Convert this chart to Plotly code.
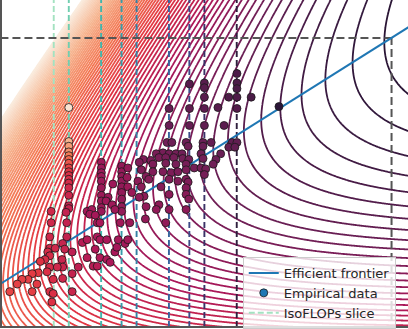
import numpy as np
import plotly.graph_objects as go

# ---------------- data ----------------
# Parametric loss fit  L(N, D) = E + A / N^alpha + B / D^beta ,  D = C / (6 N)
E, A, B, ALPHA, BETA = 1.69, 406.4, 410.7, 0.34, 0.28

iso_budgets = [6e18, 1e19, 3e19, 6e19, 1e20, 3e20, 6e20, 1e21, 3e21]
gopher_flops = 5.76e23

# Empirical runs: (log10 FLOPs, log10 parameters, final loss)
runs_slice_1e19 = [
    (19.00, 9.77, 4.90), (19.00, 9.41, 4.30), (19.00, 9.36, 4.05), (19.00, 9.30, 3.90),
    (19.00, 9.26, 3.72), (19.00, 9.22, 3.57), (19.00, 9.18, 3.42), (19.00, 9.13, 3.27),
    (19.00, 9.09, 3.17), (19.00, 9.05, 3.10), (19.00, 9.01, 3.07), (19.00, 8.97, 3.04),
    (19.00, 8.92, 3.00), (19.00, 8.84, 2.95), (19.00, 8.73, 2.92), (19.00, 8.70, 2.90),
    (18.96, 8.66, 2.90), (18.97, 8.55, 2.90), (18.97, 8.40, 2.90), (18.91, 8.33, 2.92),
    (18.94, 8.27, 2.92), (18.90, 8.16, 2.95), (18.91, 8.08, 2.95), (18.91, 7.96, 3.00),
]
runs_small_a = [
    (18.74, 8.67, 3.00), (18.74, 8.55, 3.00), (18.72, 8.40, 3.00), (18.72, 8.28, 3.02),
    (18.80, 8.28, 3.00), (18.69, 8.24, 3.05), (18.72, 8.20, 3.05), (18.65, 8.16, 3.08),
    (18.72, 8.08, 3.05), (18.83, 8.08, 3.00), (18.77, 7.95, 3.08), (18.68, 8.03, 3.10),
    (18.72, 7.82, 3.10), (18.77, 7.80, 3.10), (18.75, 7.71, 3.12),
]
runs_small_b = [
    (18.58, 8.14, 3.15), (18.55, 8.02, 3.20), (18.46, 8.01, 3.22), (18.40, 7.95, 3.25),
    (18.31, 7.95, 3.25), (18.24, 7.90, 3.28), (18.53, 7.90, 3.22), (18.46, 7.82, 3.25),
    (18.13, 7.82, 3.30),
]
runs_mid_low = [
    (19.05, 8.24, 2.85), (19.05, 8.01, 2.90), (19.05, 7.82, 2.95), (19.14, 8.08, 2.85),
    (19.20, 8.34, 2.80), (19.27, 8.37, 2.78), (19.27, 8.18, 2.80), (19.36, 8.09, 2.80),
    (19.42, 8.09, 2.80), (19.39, 8.27, 2.75), (19.42, 8.40, 2.72), (19.46, 8.37, 2.72),
    (19.46, 8.18, 2.75), (19.56, 8.37, 2.70), (19.56, 8.16, 2.72), (19.61, 8.13, 2.72),
    (19.68, 8.24, 2.70), (19.71, 8.29, 2.68), (19.73, 8.37, 2.68), (19.83, 8.33, 2.65),
    (19.87, 8.37, 2.65), (19.42, 8.55, 2.70), (19.46, 8.55, 2.70), (19.76, 8.55, 2.65),
    (19.90, 8.55, 2.62),
]
runs_mid = [
    (19.48, 9.19, 2.60), (19.48, 9.13, 2.60), (19.48, 9.08, 2.60), (19.48, 9.04, 2.60),
    (19.48, 8.99, 2.60), (19.48, 8.92, 2.60), (19.48, 8.84, 2.60), (19.48, 8.78, 2.60),
    (19.48, 8.71, 2.60), (19.48, 8.67, 2.60),
    (19.78, 9.15, 2.55), (19.78, 9.09, 2.55), (19.78, 9.04, 2.55), (19.78, 8.99, 2.55),
    (19.78, 8.93, 2.55), (19.78, 8.87, 2.55), (19.78, 8.80, 2.55), (19.78, 8.72, 2.55),
    (19.78, 8.67, 2.55),
    (19.86, 9.03, 2.58), (19.87, 8.93, 2.60), (19.93, 8.87, 2.60), (19.65, 8.96, 2.62),
    (19.58, 8.82, 2.62), (19.55, 8.78, 2.63), (19.64, 8.74, 2.63), (19.68, 8.69, 2.63),
    (19.27, 8.67, 2.68), (19.34, 8.69, 2.67), (19.31, 8.64, 2.68), (19.39, 8.63, 2.67),
    (19.87, 9.13, 2.55),
]
runs_large = [
    (20.48, 9.76, 2.25), (20.78, 9.76, 2.25), (21.00, 9.76, 2.22), (21.48, 9.76, 2.18),
    (21.20, 9.77, 2.20), (20.48, 9.58, 2.30), (20.78, 9.58, 2.28), (21.00, 9.58, 2.25),
    (21.29, 9.58, 2.22), (20.45, 9.40, 2.35), (20.52, 9.40, 2.33), (20.73, 9.40, 2.32),
    (20.98, 9.40, 2.30), (21.10, 9.40, 2.28), (21.41, 9.40, 2.25), (21.48, 9.40, 2.25),
    (20.76, 9.36, 2.33), (20.98, 9.36, 2.30), (21.36, 9.35, 2.27), (21.45, 9.35, 2.26),
    (20.39, 9.29, 2.38), (20.29, 9.28, 2.40), (20.48, 9.28, 2.37), (20.58, 9.28, 2.36),
    (20.67, 9.28, 2.35), (20.95, 9.28, 2.33), (21.24, 9.28, 2.30), (20.33, 9.24, 2.40),
    (20.43, 9.24, 2.38), (20.55, 9.24, 2.37), (20.68, 9.23, 2.36), (20.77, 9.22, 2.36),
    (20.98, 9.23, 2.34), (21.17, 9.22, 2.32), (20.10, 9.22, 2.42), (20.21, 9.21, 2.41),
    (20.04, 9.19, 2.43), (20.24, 9.17, 2.42), (20.43, 9.18, 2.40), (20.58, 9.17, 2.39),
    (20.73, 9.17, 2.38), (20.85, 9.13, 2.37), (20.95, 9.13, 2.36), (21.02, 9.12, 2.36),
    (21.13, 9.17, 2.34), (20.07, 9.11, 2.45), (20.24, 9.09, 2.44), (20.39, 9.09, 2.43),
    (20.51, 9.08, 2.42), (20.61, 9.09, 2.41), (20.73, 9.11, 2.40), (21.00, 9.06, 2.38),
    (20.14, 9.04, 2.46), (20.18, 9.01, 2.47), (20.48, 9.01, 2.45), (20.61, 8.99, 2.44),
    (20.73, 9.01, 2.43), (20.76, 8.98, 2.43), (20.02, 8.99, 2.50), (20.07, 8.93, 2.50),
    (20.11, 8.83, 2.52), (20.36, 8.93, 2.48), (20.73, 8.92, 2.46), (20.48, 8.85, 2.50),
    (20.73, 8.85, 2.48), (20.77, 8.80, 2.48), (20.33, 8.74, 2.53), (20.48, 8.69, 2.53),
    (20.73, 8.69, 2.52), (20.29, 8.69, 2.55), (20.04, 8.82, 2.53), (20.14, 8.72, 2.55),
    (20.43, 8.55, 2.55), (20.13, 8.59, 2.55),
]
runs_top = [
    (20.78, 10.02, 2.20), (21.00, 10.03, 2.20), (21.00, 9.98, 2.20), (21.00, 9.88, 2.20),
    (21.48, 10.13, 2.13), (21.48, 10.03, 2.13), (21.48, 9.97, 2.13), (21.36, 9.88, 2.15),
    (21.48, 9.88, 2.15), (21.69, 9.88, 2.13), (22.10, 9.78, 1.95),
]

# ---------------- styling helpers ----------------
ROCKET = [(0.0, '#03051a'), (0.143, '#35193e'), (0.286, '#701f57'), (0.429, '#ad1759'),
          (0.571, '#e13342'), (0.714, '#f37651'), (0.857, '#f6b48f'), (1.0, '#faebdd')]
MAKO = [(0.0, '#0b0405'), (0.143, '#2e1e3b'), (0.286, '#413d7b'), (0.429, '#37659e'),
        (0.571, '#348fa7'), (0.714, '#40b7ad'), (0.857, '#8bdab2'), (1.0, '#def5e5')]


def hex2rgb(h):
    h = h.lstrip('#')
    return [int(h[i:i + 2], 16) for i in (0, 2, 4)]


def sample(scale, t):
    t = float(min(max(t, 0.0), 1.0))
    for (p0, c0), (p1, c1) in zip(scale[:-1], scale[1:]):
        if t <= p1:
            f = (t - p0) / (p1 - p0) if p1 > p0 else 0
            a, b = hex2rgb(c0), hex2rgb(c1)
            return 'rgb(%d,%d,%d)' % tuple(round(a[i] + f * (b[i] - a[i])) for i in range(3))
    return 'rgb(%d,%d,%d)' % tuple(hex2rgb(scale[-1][1]))


ZLO, ZHI = 1.726, 5.0  # log-normalised colour range


def warped_scale(lo, hi, n=80):
    out = []
    for s in np.linspace(0, 1, n):
        z = lo + s * (hi - lo)
        t = np.log(z / ZLO) / np.log(ZHI / ZLO)
        out.append([float(s), sample(ROCKET, t)])
    return out


def fit_loss(logc, logn):
    n = 10.0 ** logn
    d = 10.0 ** logc / (6.0 * n)
    return E + A / n ** ALPHA + B / d ** BETA


G = (ALPHA * A / (BETA * B)) ** (1.0 / (ALPHA + BETA))
a_exp = BETA / (ALPHA + BETA)


def frontier_logn(logc):
    return np.log10(G) + a_exp * (logc - np.log10(6.0))


X_RANGE = [18.015, 24.003]
Y_RANGE = [7.456, 10.909]

# ---------------- figure ----------------
fig = go.Figure()

gx = np.linspace(17.9, 24.1, 440)
gy = np.linspace(7.35, 11.0, 340)
LC, LN = np.meshgrid(gx, gy)
Z = fit_loss(LC, LN)
c_start, c_size, c_n = 1.85, 0.045, 70
c_last = c_start + c_n * c_size
fig.add_trace(go.Contour(
    x=gx, y=gy, z=Z,
    contours=dict(start=c_start, end=c_last + 0.001, size=c_size, coloring='lines'),
    colorscale=warped_scale(c_start, c_last), showscale=False,
    line=dict(width=1.8), hoverinfo='skip', showlegend=False))

# IsoFLOP slices
nb = len(iso_budgets)
iso_cols = [sample(MAKO, 0.9 - 0.094 * i) for i in range(nb)]
for c, col in zip(iso_budgets, iso_cols):
    lc = np.log10(c)
    fig.add_trace(go.Scatter(x=[lc, lc], y=[Y_RANGE[0] - 0.2, Y_RANGE[1] + 0.2], mode='lines',
                             line=dict(color=col, width=1.9, dash='6px,3px'),
                             showlegend=False, hoverinfo='skip'))

# Gopher budget markers
g_lc = np.log10(gopher_flops)
g_ln = float(frontier_logn(g_lc))
fig.add_trace(go.Scatter(x=[X_RANGE[0] - 0.2, g_lc], y=[g_ln, g_ln], mode='lines',
                         line=dict(color='#555555', width=2, dash='8px,4px'),
                         showlegend=False, hoverinfo='skip'))
fig.add_trace(go.Scatter(x=[g_lc, g_lc], y=[Y_RANGE[0] - 0.2, g_ln], mode='lines',
                         line=dict(color='#555555', width=2, dash='8px,4px'),
                         showlegend=False, hoverinfo='skip'))

# Efficient frontier
fx = np.linspace(17.8, 24.2, 60)
fig.add_trace(go.Scatter(x=fx, y=frontier_logn(fx), mode='lines', name='Efficient frontier',
                         line=dict(color='#1f77b4', width=2)))

# Empirical data
runs = (runs_slice_1e19 + runs_small_a + runs_small_b + runs_mid_low + runs_mid
        + runs_large + runs_top)
ex = [r[0] for r in runs]
ey = [r[1] for r in runs]
el = [r[2] for r in runs]
fig.add_trace(go.Scatter(x=ex, y=ey, mode='markers', showlegend=False,
                         marker=dict(size=8, color=el, colorscale=warped_scale(ZLO, ZHI),
                                     cmin=ZLO, cmax=ZHI, line=dict(color='#1a1a1a', width=0.8))))

# legend proxies
fig.add_trace(go.Scatter(x=[None], y=[None], mode='markers', name='Empirical data',
                         marker=dict(size=8, color='#1f77b4', line=dict(color='#1a1a1a', width=0.8))))
fig.add_trace(go.Scatter(x=[None], y=[None], mode='lines', name='IsoFLOPs slice',
                         line=dict(color=iso_cols[0], width=1.9, dash='6px,3px')))

axis_common = dict(showgrid=False, zeroline=False, showticklabels=False, ticks='',
                   showline=True, linecolor='#555555', linewidth=2)
fig.update_layout(
    width=408, height=329,
    margin=dict(l=2, r=0, t=0, b=2),
    paper_bgcolor='white', plot_bgcolor='white',
    xaxis=dict(range=X_RANGE, **axis_common),
    yaxis=dict(range=Y_RANGE, **axis_common),
    legend=dict(x=0.593, y=0.211, xanchor='left', yanchor='top',
                bgcolor='rgba(255,255,255,0.8)', bordercolor='#cccccc', borderwidth=1,
                font=dict(family='DejaVu Sans', size=13, color='#262626'),
                tracegroupgap=0, itemwidth=30),
    font=dict(family='DejaVu Sans'),
)

fig.write_html('out.html')
